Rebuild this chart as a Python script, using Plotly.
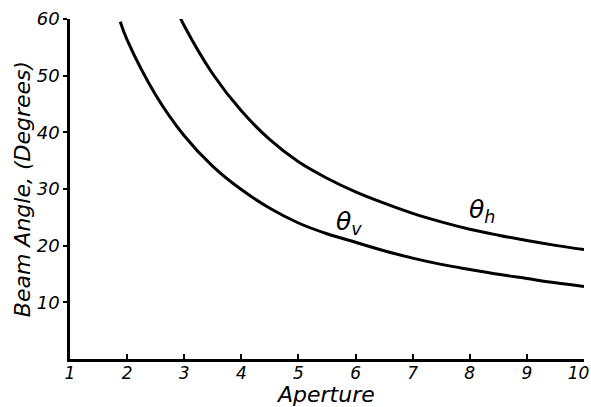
import plotly.graph_objects as go

# Aperture values and beam angles
theta_v_x = [1.88, 2.0, 2.5, 3.0, 3.5, 4.0, 4.5, 5.0, 5.5, 6.0, 6.5, 7.0, 7.5, 8.0,
             8.5, 9.0, 9.5, 10.0]
theta_v_y = [59.5, 56.3, 46.6, 39.4, 34.0, 29.9, 26.6, 24.0, 22.1, 20.6, 19.1, 17.8,
             16.7, 15.8, 14.95, 14.2, 13.45, 12.8]

theta_h_x = [2.92, 3.0, 3.5, 4.0, 4.5, 5.0, 5.5, 6.0, 6.5, 7.0, 7.5, 8.0, 8.5, 9.0,
             9.5, 10.0]
theta_h_y = [60.5, 58.8, 50.3, 43.8, 38.7, 34.8, 31.9, 29.5, 27.5, 25.7, 24.2, 22.9,
             21.85, 20.9, 20.05, 19.3]

x_ticks = [1, 2, 3, 4, 5, 6, 7, 8, 9, 10]
x_tick_labels = ["1", "2", "3", "4", "5", "6", "7", "8", "9", "10\u00a0\u00a0"]
y_ticks = [10, 20, 30, 40, 50, 60]
y_tick_labels = ["10", "20", "30", "40", "50", "60"]

FONT = "DejaVu Sans"

fig = go.Figure()
fig.add_trace(go.Scatter(x=theta_v_x, y=theta_v_y, mode="lines",
                         line=dict(color="black", width=3, shape="spline"),
                         showlegend=False))
fig.add_trace(go.Scatter(x=theta_h_x, y=theta_h_y, mode="lines",
                         line=dict(color="black", width=3, shape="spline"),
                         showlegend=False))

fig.add_annotation(x=5.89, y=24.0, text="θ<sub>v</sub>", showarrow=False,
                   font=dict(family=FONT, size=25, color="black", style="italic"))
fig.add_annotation(x=8.21, y=26.2, text="θ<sub>h</sub>", showarrow=False,
                   font=dict(family=FONT, size=25, color="black", style="italic"))

# axis titles
fig.add_annotation(xref="paper", yref="paper", x=0.498, y=-0.105, yanchor="middle",
                   text="Aperture", showarrow=False,
                   font=dict(family=FONT, size=22, color="black", style="italic"))
fig.add_annotation(xref="paper", yref="paper", x=-0.093, y=0.5, xanchor="center",
                   text="Beam Angle, (Degrees)", showarrow=False, textangle=-90,
                   font=dict(family=FONT, size=22, color="black", style="italic"))

fig.update_xaxes(range=[1, 10], tickvals=x_ticks, ticktext=x_tick_labels,
                 showgrid=False, zeroline=False, showline=True, linecolor="black",
                 linewidth=2.5, ticks="inside", ticklen=5, tickwidth=2, tickcolor="black",
                 tickfont=dict(family=FONT, size=17, color="black", style="italic"),
                 ticklabelstandoff=-3,
                 ticklabeloverflow="allow", automargin=False)
fig.update_yaxes(range=[0, 60], tickvals=y_ticks, ticktext=y_tick_labels,
                 showgrid=False, zeroline=False, showline=True, linecolor="black",
                 linewidth=2.5, ticks="outside", ticklen=4, tickwidth=2, tickcolor="black",
                 tickfont=dict(family=FONT, size=18, color="black", style="italic"),
                 ticklabeloverflow="allow", automargin=False)

fig.update_layout(width=591, height=407,
                  margin=dict(l=70, r=7, t=19, b=48),
                  plot_bgcolor="white", paper_bgcolor="white",
                  font=dict(family=FONT, color="black"))

fig.write_html("out.html", config={"displayModeBar": False},
               post_script="document.body.style.margin='0';document.body.style.overflow='hidden';")
